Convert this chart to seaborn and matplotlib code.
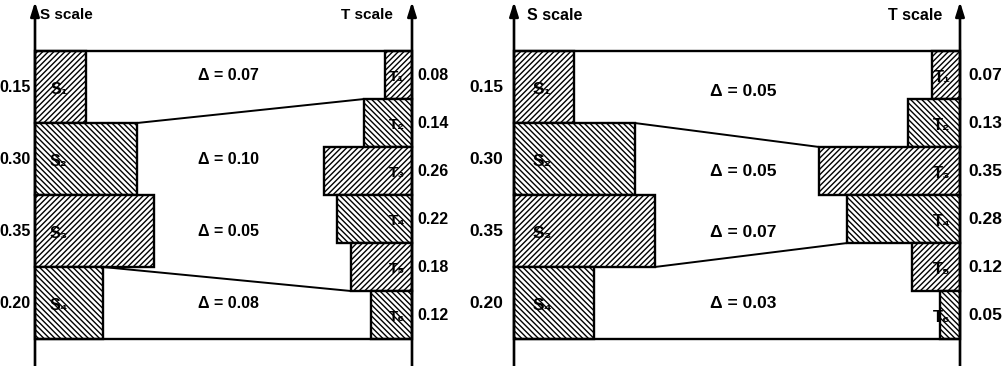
import matplotlib
matplotlib.use("Agg")
import matplotlib.pyplot as plt
import seaborn as sns

# ==========================
# DATA
# ==========================
s_values = [0.15, 0.30, 0.35, 0.20]
s_names = ["S\u2081", "S\u2082", "S\u2083", "S\u2084"]
t_names = ["T\u2081", "T\u2082", "T\u2083", "T\u2084", "T\u2085", "T\u2086"]

t_values_left = [0.08, 0.14, 0.26, 0.22, 0.18, 0.12]
t_values_right = [0.07, 0.13, 0.35, 0.28, 0.12, 0.05]

delta_left = [0.07, 0.10, 0.05, 0.08]
delta_right = [0.05, 0.05, 0.07, 0.03]

# connector lines: (S bar, S edge, T bar, T edge)
links_left = [(1, "top", 1, "top"), (3, "top", 4, "bottom")]
links_right = [(1, "top", 2, "top"), (2, "bottom", 3, "bottom")]

# ==========================
# STYLE
# ==========================
sns.set_theme(style="white")
plt.rcParams["hatch.linewidth"] = 1.0
plt.rcParams["font.family"] = ["Liberation Sans", "DejaVu Sans"]

FAM = ["Liberation Sans", "DejaVu Sans"]

W = 1.109          # width of the box in scale units
TOP = 12.0         # 4 S rows of 3, 6 T rows of 2
S_H = TOP / len(s_values)
T_H = TOP / len(t_values_left)
HATCHES = ["//////", "\\\\\\\\\\\\"]


def s_edge(i, edge):
    bottom = TOP - S_H * (i + 1)
    return bottom + S_H if edge == "top" else bottom


def t_edge(j, edge):
    bottom = TOP - T_H * (j + 1)
    return bottom + T_H if edge == "top" else bottom


def draw_panel(ax, t_values, deltas, links, fs, title_fs, delta_y, s_gap, t_gap,
               s_title_x, t_title_x):
    txt = dict(family=FAM, weight="bold", color="black")

    # S bars on the left
    for i, v in enumerate(s_values):
        ax.barh(s_edge(i, "bottom"), v, height=S_H, left=0, align="edge",
                color="white", edgecolor="black", linewidth=1.7,
                hatch=HATCHES[i % 2])
        yc = s_edge(i, "bottom") + S_H / 2
        ax.text(0.07, yc - 0.1, s_names[i], ha="center", va="center",
                fontsize=fs, **txt)
        ax.text(-s_gap, yc, f"{v:.2f}", ha="right", va="center",
                fontsize=fs, **txt)

    # T bars on the right
    for j, v in enumerate(t_values):
        ax.barh(t_edge(j, "bottom"), v, height=T_H, left=W - v, align="edge",
                color="white", edgecolor="black", linewidth=1.7,
                hatch=HATCHES[j % 2])
        yc = t_edge(j, "bottom") + T_H / 2
        ax.text(W - 0.045, yc - 0.1, t_names[j], ha="center", va="center",
                fontsize=fs - 0.5, **txt)
        ax.text(W + t_gap, yc, f"{v:.2f}", ha="left", va="center",
                fontsize=fs, **txt)

    # top / bottom borders
    ax.plot([0, W], [TOP, TOP], color="black", lw=1.7, solid_capstyle="butt")
    ax.plot([0, W], [0, 0], color="black", lw=1.7, solid_capstyle="butt")

    # slanted connectors
    for si, se, tj, te in links:
        ax.plot([s_values[si], W - t_values[tj]],
                [s_edge(si, se), t_edge(tj, te)],
                color="black", lw=1.4)

    # delta labels
    for d, y in zip(deltas, delta_y):
        ax.text(0.57, y, f"\u0394 = {d:.2f}", ha="center", va="center",
                fontsize=fs, **txt)

    # scale axes with arrows
    for x in (0, W):
        ax.annotate("", xy=(x, 14.05), xytext=(x, -1.125),
                    arrowprops=dict(arrowstyle="-|>,head_length=0.7,head_width=0.22",
                                    lw=1.9, color="black",
                                    shrinkA=0, shrinkB=0),
                    annotation_clip=False)
    ax.text(s_title_x, 13.5, "S scale", ha="left", va="center",
            fontsize=title_fs, **txt)
    ax.text(W - t_title_x, 13.5, "T scale", ha="right", va="center",
            fontsize=title_fs, **txt)

    for p in ax.patches:
        p.set_clip_on(False)
    for ln in ax.lines:
        ln.set_clip_on(False)

    ax.set_xlim(0, W)
    ax.set_ylim(-1.125, 14.125)
    ax.axis("off")


fig = plt.figure(figsize=(10.05, 3.66), dpi=100)
ax1 = fig.add_axes([35 / 1005, 0, 377 / 1005, 1])
ax2 = fig.add_axes([514 / 1005, 0, 446 / 1005, 1])

draw_panel(ax1, t_values_left, delta_left, links_left, 11.5, 11,
           [11.0, 7.5, 4.5, 1.5], 0.012, 0.015, 0.015, 0.056)
draw_panel(ax2, t_values_right, delta_right, links_right, 12.5, 11.5,
           [10.3, 7.0, 4.45, 1.5], 0.027, 0.02, 0.032, 0.045)

fig.savefig("out.png", dpi=100, facecolor="white")
